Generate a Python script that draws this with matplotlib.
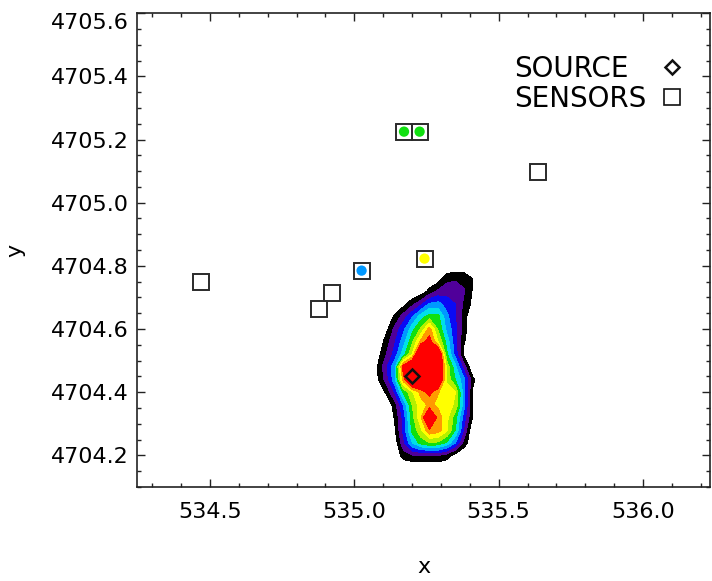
import numpy as np
import matplotlib.pyplot as plt
from matplotlib.colors import ListedColormap, BoundaryNorm
from matplotlib.ticker import MultipleLocator, FormatStrFormatter

# plume concentration on a regular grid (rows run north -> south)
grid_x = [535.05, 535.08, 535.11, 535.14, 535.17, 535.20, 535.23,
          535.26, 535.29, 535.32, 535.35, 535.38, 535.41, 535.44]
grid_y = [4704.80, 4704.76, 4704.72, 4704.68, 4704.64, 4704.60, 4704.56,
          4704.52, 4704.48, 4704.44, 4704.40, 4704.36, 4704.32, 4704.28,
          4704.24, 4704.20, 4704.16]
conc = [
    [0, 0, 0, 0, 0, 0, 0, 0, 0, 0, 0, 0, 0, 0],
    [0, 0, 0, 0, 0, 0, 0, 0, 0.4, 1.7, 1.9, 1.8, 1.0, 0],
    [0, 0, 0, 0, 0, 0, 0.25, 1.3, 2.2, 2.5, 2.4, 2.05, 0.9, 0],
    [0, 0, 0, 0, 0.57, 1.61, 2.68, 4.1, 4.3, 3.6, 2.98, 1.8, 0.7, 0],
    [0, 0, 0, 1.2, 2.44, 3.8, 5.5, 6.4, 6.3, 4.27, 2.98, 1.47, 0, 0],
    [0, 0, 0.64, 2.28, 3.73, 5.6, 7.13, 9.4, 6.87, 4.72, 3.27, 1.43, 0, 0],
    [0, 0, 1.47, 2.9, 4.53, 6.76, 9.3, 10.6, 8.0, 5.6, 3.3, 1.1, 0, 0],
    [0, 0.52, 1.97, 3.4, 5.55, 7.95, 13.0, 13.0, 12.2, 6.2, 3.58, 0.65, 0, 0],
    [0, 1.02, 2.76, 4.8, 10.75, 12.5, 13.0, 13.0, 13.0, 7.65, 5.3, 2.43, 0, 0],
    [0, 0.85, 2.36, 4.7, 9.5, 13.0, 13.0, 12.5, 12.2, 7.72, 5.98, 4.26, 1.3, 0],
    [0, 0, 1.16, 3.1, 6.2, 7.8, 9.3, 10.4, 9.05, 8.6, 8.0, 4.3, 0.8, 0],
    [0, 0, 0, 1.5, 4.05, 6.96, 8.6, 9.2, 8.8, 8.5, 7.8, 4.3, 0.8, 0],
    [0, 0, 0, 1.1, 3.37, 6.54, 8.8, 12.5, 9.5, 8.3, 6.4, 3.43, 0.9, 0],
    [0, 0, 0, 0.85, 3.28, 6.26, 7.68, 9.9, 9.5, 8.2, 6.0, 2.83, 0, 0],
    [0, 0, 0, 0.35, 2.7, 4.95, 6.4, 7.0, 6.8, 5.8, 4.0, 1.6, 0, 0],
    [0, 0, 0, 0, 1.5, 1.9, 2.0, 2.0, 2.0, 1.5, 0.5, 0, 0, 0],
    [0, 0, 0, 0, 0, 0, 0, 0, 0, 0, 0, 0, 0, 0],
]

levels = [1, 2, 3, 4, 5, 6, 7, 8, 9, 10, 100]
level_colors = ['#000000', '#50009a', '#0a0af5', '#0098ff', '#00e0e8',
                '#10e010', '#b4f000', '#ffff00', '#ff9a00', '#ff0000']

source_x = [535.20]
source_y = [4704.45]

sensor_x = [534.469, 534.876, 534.923, 535.025, 535.172, 535.226, 535.243, 535.635]
sensor_y = [4704.749, 4704.662, 4704.715, 4704.785, 4705.225, 4705.225, 4704.823, 4705.097]
# readings on the plume scale, nan where the sensor saw nothing
sensor_reading = [np.nan, np.nan, np.nan, 4.5, 6.5, 6.5, 8.5, np.nan]

cmap = ListedColormap(level_colors)
norm = BoundaryNorm(levels, cmap.N)

fig = plt.figure(figsize=(7.12, 5.81), dpi=100)
ax = fig.add_axes([0.1924, 0.1618, 0.8048, 0.8158])

ax.contourf(grid_x, grid_y, np.array(conc), levels=levels, cmap=cmap, norm=norm)

sx = np.array(sensor_x)
sy = np.array(sensor_y)
reading = np.array(sensor_reading)
hit = ~np.isnan(reading)
ax.scatter(sx[hit], sy[hit], c=reading[hit], cmap=cmap, norm=norm, s=55,
           linewidths=0, zorder=3)

ax.plot(source_x, source_y, 'D', ms=7.4, mfc='none', mec='#111111',
        mew=1.8, ls='none', zorder=4)
ax.plot(sensor_x, sensor_y, 's', ms=11, mfc='none', mec='#2a2a2a',
        mew=1.4, ls='none', zorder=4)

# key: labels left-aligned, symbols in a column to their right
key = [('SOURCE', 'D', 7.4, 1.8, 0.865), ('SENSORS', 's', 11, 1.2, 0.802)]
for label, marker, size, edge, ybase in key:
    ax.text(0.658, ybase, label, transform=ax.transAxes, fontsize=20,
            ha='left', va='baseline')
    ax.plot([0.934], [ybase + 0.021], marker, transform=ax.transAxes, ms=size,
            mfc='none', mec='#111111', mew=edge, clip_on=False)

ax.set_xlim(534.247, 536.232)
ax.set_ylim(4704.1, 4705.6005)
ax.xaxis.set_major_locator(MultipleLocator(0.5))
ax.xaxis.set_minor_locator(MultipleLocator(0.1))
ax.yaxis.set_major_locator(MultipleLocator(0.2))
ax.yaxis.set_minor_locator(MultipleLocator(0.05))
ax.xaxis.set_major_formatter(FormatStrFormatter('%.1f'))
ax.yaxis.set_major_formatter(FormatStrFormatter('%.1f'))

ax.tick_params(which='both', direction='in', top=True, right=True,
               width=1, color='#222222')
ax.tick_params(which='major', length=6)
ax.tick_params(which='minor', length=3)
ax.tick_params(axis='x', pad=11, labelsize=16)
ax.tick_params(axis='y', pad=6, labelsize=16)
for s in ax.spines.values():
    s.set_linewidth(1.2)
    s.set_color('#222222')

# the label on the top edge hangs below its tick
ylocs = ax.yaxis.get_majorticklocs()
for tick, loc in zip(ax.yaxis.get_major_ticks(), ylocs):
    if loc >= ax.get_ylim()[1] - 1e-3:
        tick.label1.set_va('top')

ax.set_xlabel('x', fontsize=16)
ax.set_ylabel('y', fontsize=16)
ax.xaxis.set_label_coords(0.5, -0.147)
ax.yaxis.set_label_coords(-0.195, 0.5)

fig.savefig('out.png', dpi=100)
